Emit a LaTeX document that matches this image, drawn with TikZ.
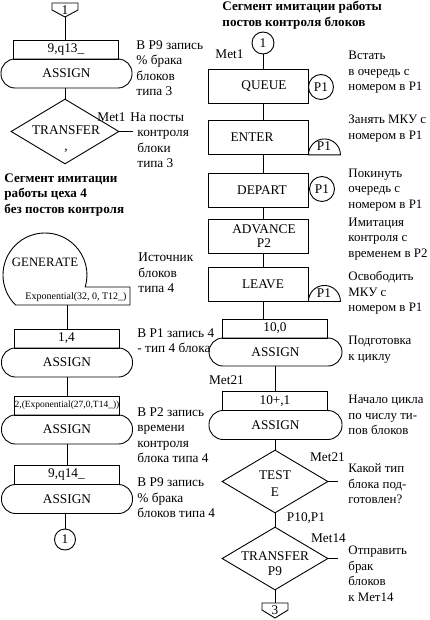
\documentclass[tikz,border=0pt]{standalone}
\usepackage{fontspec}
\setmainfont{Liberation Serif}
\usetikzlibrary{shapes.geometric}
\begin{document}
\begin{tikzpicture}[x=1pt,y=1pt,line width=0.9pt,
  every node/.style={font=\fontsize{13.3}{15.5}\selectfont},
  parbox/.style={draw, rectangle, minimum width=105pt, minimum height=19pt, inner sep=0pt},
  oper/.style={draw, rectangle, rounded corners=14pt, minimum width=131pt, minimum height=29pt, inner sep=0pt},
  blk/.style={draw, rectangle, minimum width=100pt, minimum height=34pt, inner sep=0pt},
  dia/.style={draw, diamond, minimum width=106pt, minimum height=64pt, inner sep=0pt},
  ring/.style={draw, circle, minimum size=22pt, inner sep=0pt},
  pring/.style={draw, circle, minimum size=25pt, inner sep=0pt},
  note/.style={anchor=west, align=left, inner sep=0pt},
  rnote/.style={anchor=west, align=left, inner sep=0pt, font=\fontsize{12.9}{15.5}\selectfont},
  lbl/.style={inner sep=0pt, align=center},
  head/.style={anchor=west, align=left, inner sep=0pt, font=\fontsize{13.1}{15.5}\selectfont\bfseries},
  small/.style={inner sep=0pt, font=\fontsize{10}{12}\selectfont},
]
\useasboundingbox (0,0) rectangle (429,-620);

% ---------------- left column ----------------
\draw (52,-3) -- (78,-3) -- (78,-10) -- (65,-17) -- (52,-10) -- cycle;
\node[lbl] (o1) at (65,-10) {1};
\coordinate (o1tip) at (65,-17);
\node[parbox] (b1) at (66,-49.5) {9,q13\_};
\node[oper] (a1) at (66.5,-73.5) {ASSIGN};
\node[dia, minimum width=108pt, minimum height=65pt] (d1) at (65,-131.5) {};
\node[lbl, anchor=north, font=\fontsize{13.3}{16}\selectfont] (d1t) at (66,-125.5) {TRANSFER\\,};
\coordinate (d1o) at (133,-131.5);
\node[lbl, anchor=east] (m1) at (126,-117) {Met1};
\draw (o1tip) -- (o1tip |- b1.north);
\draw (a1.south -| d1) -- (d1.north);
\draw (d1.east) -- (d1o);

\node[note] (n1) at (136,-68) {В Р9 запись\\\% брака\\блоков\\типа 3};
\node[note] (n2) at (137,-140) {\hspace*{-7pt}На посты\\контроля\\блоки\\типа 3};

\node[head] (h1) at (4,-195) {Сегмент имитации\\работы цеха 4\\без постов контроля};

\draw (85.25,-287) -- (130,-287) -- (130,-305) -- (15.6,-305)
      arc[start angle=225.6, end angle=-16.6, radius=42] -- cycle;
\node[lbl, font=\fontsize{12.8}{15}\selectfont] (gen) at (45,-262) {GENERATE};
\node[small] (genp) at (76,-297) {Exponential(32, 0, T12\_)};
\coordinate (genb) at (67,-305);
\node[note] (n3) at (138,-273) {Источник\\блоков\\типа 4};

\node[parbox] (b2) at (66.5,-338.5) {1,4};
\node[oper] (a2) at (67,-362.5) {ASSIGN};
\node[note] (n4) at (137,-340.5) {В Р1 запись 4\\- тип 4 блока};
\draw (genb) -- (genb |- b2.north);

\node[parbox, font=\fontsize{9.5}{11}\selectfont] (b3) at (67,-405.5) {2,(Exponential(27,0,T14\_))};
\node[oper] (a3) at (67,-429.5) {ASSIGN};
\node[note] (n5) at (137,-435) {В Р2 запись\\времени\\контроля\\блока типа 4};
\draw (a2.south) -- (a2.south |- b3.north);

\node[parbox] (b4) at (66.5,-474.5) {9,q14\_};
\node[oper] (a4) at (67,-499) {ASSIGN};
\node[note] (n6) at (137,-498) {В Р9 запись\\\% брака\\блоков типа 4};
\draw (a3.south) -- (a3.south |- b4.north);

\node[ring, minimum size=21pt] (c2) at (65,-539.5) {1};
\draw (a4.south -| c2) -- (c2.north);

% ---------------- right column ----------------
\node[head] (h2) at (222,-15) {Сегмент имитации работы\\постов контроля блоков};

\node[ring] (c1) at (263,-43) {1};
\node[lbl] (m2) at (229.5,-54) {Met1};

\node[blk] (q) at (258,-86) {\hspace*{12pt}QUEUE};
\node[pring] (pq) at (321,-87) {P1};
\node[blk] (e) at (258,-137.5) {ENTER\hspace*{12pt}};
\draw (e.south east) arc[start angle=180, end angle=0, radius=16] -- cycle;
\node[lbl] (pe) at (324,-146) {P1};
\node[blk] (dp) at (258,-190) {\hspace*{8pt}DEPART};
\node[pring] (pd) at (322,-189) {P1};
\node[blk, align=center, font=\fontsize{13.3}{14}\selectfont] (ad) at (258,-236) {\hspace*{12pt}ADVANCE\\\hspace*{12pt}P2};
\node[blk] (lv) at (258,-284) {\hspace*{10pt}LEAVE};
\draw (lv.south east) arc[start angle=180, end angle=0, radius=16] -- cycle;
\node[lbl] (pl) at (324,-293) {P1};

\draw (c1.south) -- (c1.south |- q.north);
\draw (q.south -| c1) -- (e.north -| c1);
\draw (e.south -| c1) -- (dp.north -| c1);
\draw (dp.south -| c1) -- (ad.north -| c1);
\draw (ad.south -| c1) -- (lv.north -| c1);

\node[rnote] (r1) at (348,-72.5) {Встать\\в очередь с\\номером в Р1};
\node[rnote] (r2) at (348,-128.5) {Занять МКУ с\\номером в Р1};
\node[rnote] (r3) at (348,-190) {Покинуть\\очередь с\\номером в Р1};
\node[rnote] (r4) at (348,-239) {Имитация\\контроля с\\временем в Р2};
\node[rnote] (r5) at (348,-293) {Освободить\\МКУ с\\номером в Р1};

\node[parbox] (b5) at (275,-328.5) {10,0};
\node[oper, minimum width=133pt, minimum height=28pt] (a5) at (275.5,-352) {ASSIGN};
\draw (lv.south -| c1) -- (b5.north -| c1);
\node[rnote] (r6) at (348,-349.5) {Подготовка\\к циклу};

\node[lbl] (m3) at (226.5,-380) {Met21};
\node[parbox] (b6) at (275,-401) {10+,1};
\node[oper, minimum width=133pt] (a6) at (275.5,-425) {ASSIGN};
\draw (a5.south -| b5) -- (b6.north);
\node[rnote] (r7) at (348,-415) {Начало цикла\\по числу ти-\\пов блоков};

\node[dia, minimum height=63pt] (d2) at (275,-481.5) {};
\node[lbl, font=\fontsize{13.3}{17}\selectfont] (d2t) at (275,-483.5) {TEST\\E};
\node[lbl] (m4) at (327.5,-457) {Met21};
\coordinate (d2o) at (338,-481.5);
\draw (d2.east) -- (d2o);
\draw (a6.south -| b6) -- (d2.north);
\node[lbl] (pp) at (306,-518) {P10,P1};
\node[rnote] (r8) at (348,-484) {Какой тип\\блока под-\\готовлен?};

\node[dia, minimum height=63pt] (d3) at (275,-558.5) {};
\node[lbl, font=\fontsize{13.3}{15}\selectfont] (d3t) at (275,-564) {TRANSFER\\P9};
\node[lbl] (m5) at (328.5,-538) {Met14};
\coordinate (d3o) at (338,-558.5);
\draw (d3.east) -- (d3o);
\draw (d2.south) -- (d3.north);
\node[rnote] (r9) at (348,-574) {Отправить\\брак\\блоков\\к Мет14};

\draw (262,-603) -- (288,-603) -- (288,-610) -- (275,-618) -- (262,-610) -- cycle;
\node[lbl] (o3) at (275,-610) {3};
\coordinate (o3top) at (275,-603);
\draw (d3.south) -- (o3top);
\end{tikzpicture}
\end{document}
